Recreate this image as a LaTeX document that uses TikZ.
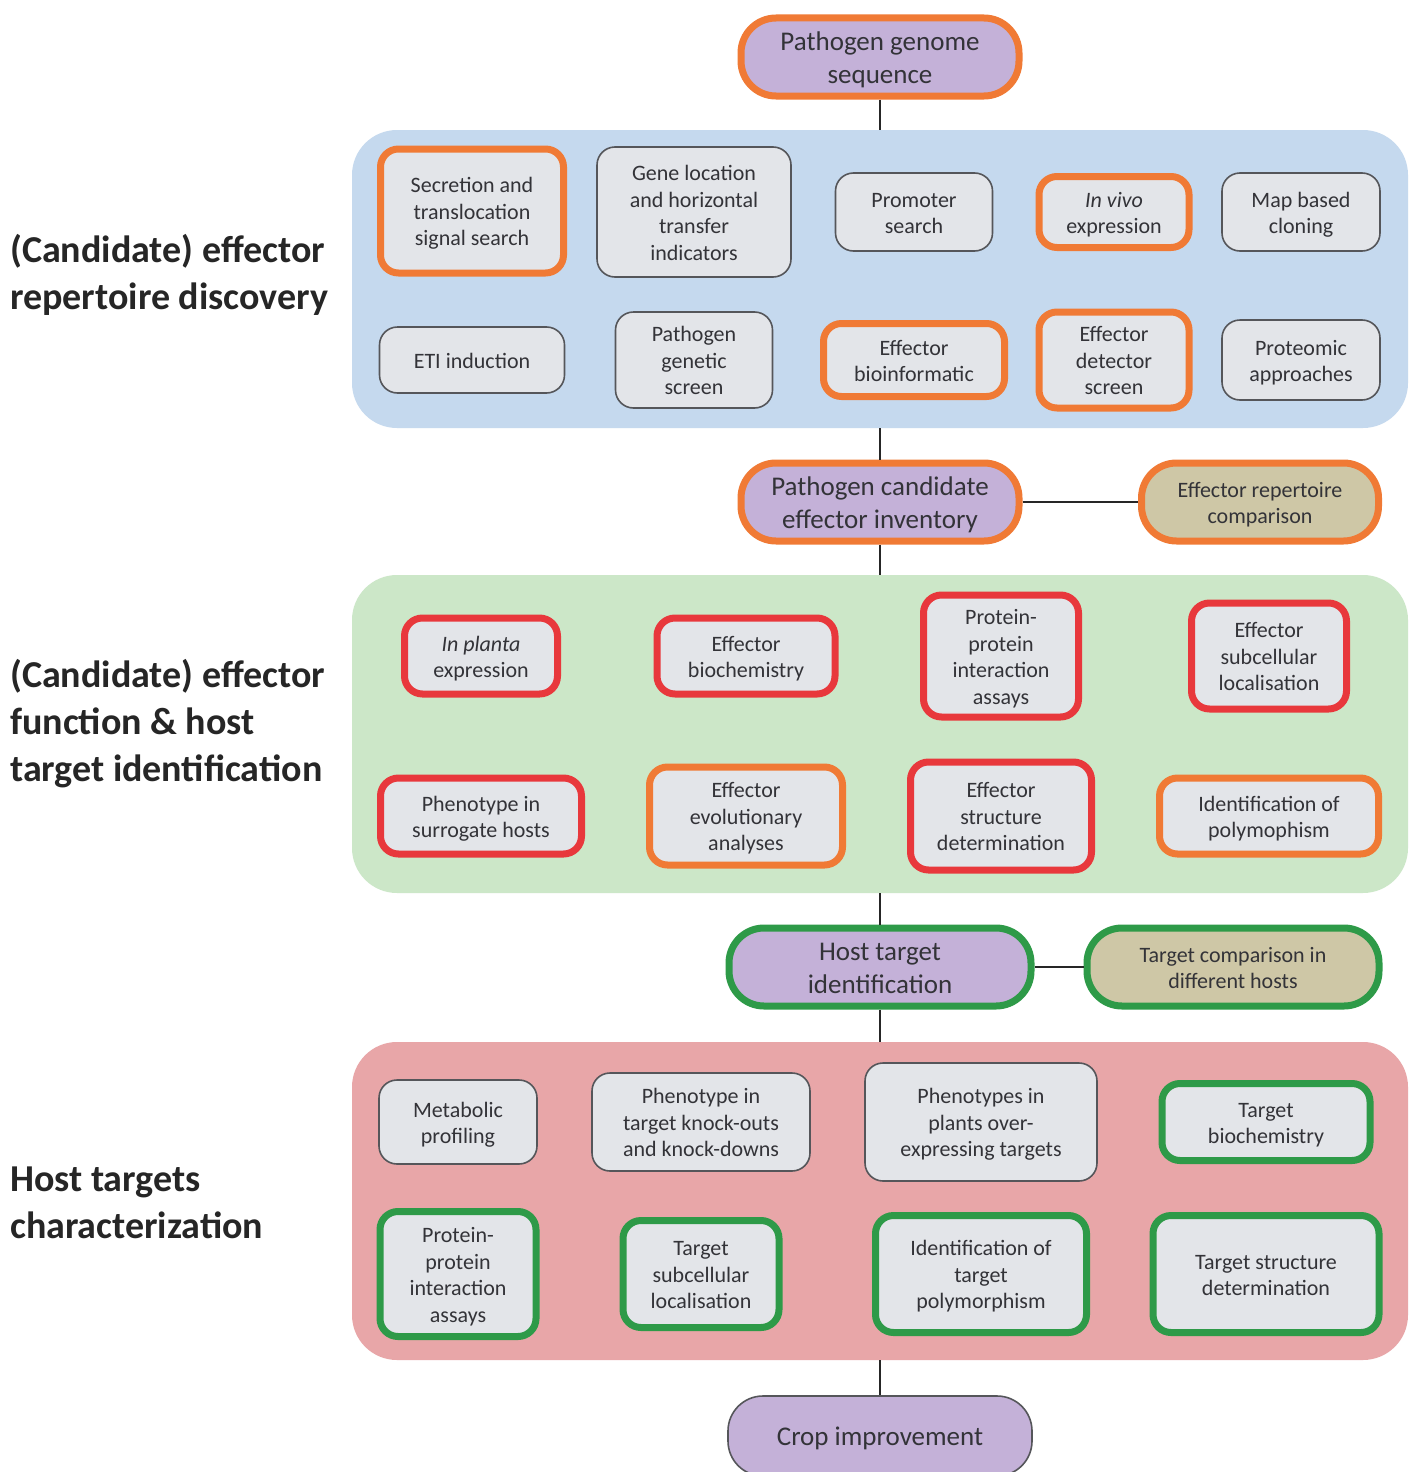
\documentclass[tikz,border=0pt]{standalone}
\usepackage{fontspec}
\setmainfont{Carlito}
\definecolor{orng}{HTML}{F07A35}
\definecolor{rd}{HTML}{E8383C}
\definecolor{grn}{HTML}{2E9A48}
\definecolor{lav}{HTML}{C4B1D8}
\definecolor{tan}{HTML}{CEC7A6}
\definecolor{boxfill}{HTML}{E3E5E9}
\definecolor{bluep}{HTML}{C5D9EE}
\definecolor{greenp}{HTML}{CCE7C8}
\definecolor{redp}{HTML}{E8A6A8}
\definecolor{txt}{HTML}{333338}
\definecolor{gline}{HTML}{55565A}
\newcommand\mlines[1]{\raisebox{-3pt}[\height][\depth]{\begin{tabular}{@{}c@{}}#1\end{tabular}}}
\begin{document}
\begin{tikzpicture}[x=1pt,y=-1pt,
  panel/.style={draw=none, rounded corners=45pt, inner sep=0pt},
  box/.style={draw=gline, line width=1.6pt, fill=boxfill, rounded corners=18pt,
    font=\fontsize{22}{26.5}\selectfont, text=txt, inner sep=0pt},
  ob/.style={box, draw=orng, line width=7pt},
  rb/.style={box, draw=rd, line width=7pt},
  gb/.style={box, draw=grn, line width=7pt},
  bigbox/.style={box, fill=lav, rounded corners=35pt, font=\fontsize{27}{33}\selectfont},
  cmpbox/.style={box, fill=tan, rounded corners=35pt, line width=7pt},
  lbl/.style={anchor=west, align=left, font=\fontsize{38}{47}\selectfont\bfseries, text=black!85, inner sep=0pt},
  conn/.style={line width=2pt, black!85}]
\useasboundingbox (0,0) rectangle (1415,1472);
\fill[white] (0,0) rectangle (1415,1472);

% panels
\node[panel, fill=bluep, minimum width=1056pt, minimum height=298pt] (p1) at (880,279) {};
\node[panel, fill=greenp, minimum width=1056pt, minimum height=318pt] (p2) at (880,734) {};
\node[panel, fill=redp, minimum width=1056pt, minimum height=318pt] (p3) at (880,1201) {};

% left labels
\node[lbl] (l1) at (10,275) {(Candidate) effector\\repertoire discovery};
\node[lbl] (l2) at (10,724) {(Candidate) effector\\function \& host\\target identification};
\node[lbl] (l3) at (10,1203) {Host targets\\characterization};

% main column
\node[bigbox, draw=orng, line width=7pt, minimum width=278pt, minimum height=78pt] (gen) at (880,57) {\mlines{Pathogen genome\\sequence}};
\node[bigbox, draw=orng, line width=7pt, minimum width=278pt, minimum height=78pt] (inv) at (880,502) {\mlines{Pathogen candidate\\effector inventory}};
\node[cmpbox, draw=orng, minimum width=237pt, minimum height=78pt] (rep) at (1260,502) {\mlines{Effector repertoire\\comparison}};
\node[bigbox, draw=grn, line width=7pt, minimum width=302pt, minimum height=78pt] (host) at (880,967) {\mlines{Host target\\identification}};
\node[cmpbox, draw=grn, minimum width=292pt, minimum height=78pt] (tcmp) at (1233,967) {\mlines{Target comparison in\\different hosts}};
\node[bigbox, minimum width=304pt, minimum height=80pt] (crop) at (880,1436) {\mlines{Crop improvement}};

% blue panel nodes
\node[ob, minimum width=183pt, minimum height=124pt] (sec) at (472,211) {\mlines{Secretion and\\translocation\\signal search}};
\node[box, minimum width=194pt, minimum height=130pt] (gene) at (694,212) {\mlines{Gene location\\and horizontal\\transfer\\indicators}};
\node[box, minimum width=157pt, minimum height=78pt] (prom) at (914,212) {\mlines{Promoter\\search}};
\node[ob, minimum width=150pt, minimum height=71pt] (vivo) at (1114,212) {\mlines{\textit{In vivo}\\expression}};
\node[box, minimum width=158pt, minimum height=78pt] (map) at (1301,212) {\mlines{Map based\\cloning}};
\node[box, minimum width=185pt, minimum height=66pt] (eti) at (472,360) {\mlines{ETI induction}};
\node[box, minimum width=157pt, minimum height=96pt] (pgs) at (694,360) {\mlines{Pathogen\\genetic\\screen}};
\node[ob, minimum width=181pt, minimum height=73pt] (bio) at (914,360) {\mlines{Effector\\bioinformatic}};
\node[ob, minimum width=150pt, minimum height=96pt] (det) at (1114,360) {\mlines{Effector\\detector\\screen}};
\node[box, minimum width=158pt, minimum height=80pt] (prot) at (1301,360) {\mlines{Proteomic\\approaches}};

% green panel nodes
\node[rb, minimum width=153pt, minimum height=76pt] (planta) at (481,656) {\mlines{\textit{In planta}\\expression}};
\node[rb, minimum width=178pt, minimum height=76pt] (ebio) at (746,656) {\mlines{Effector\\biochemistry}};
\node[rb, minimum width=155pt, minimum height=122pt] (ppi) at (1001,656) {\mlines{Protein-\\protein\\interaction\\assays}};
\node[rb, minimum width=155pt, minimum height=106pt] (esub) at (1269,656) {\mlines{Effector\\subcellular\\localisation}};
\node[rb, minimum width=201pt, minimum height=76pt] (surr) at (481,816) {\mlines{Phenotype in\\surrogate hosts}};
\node[ob, minimum width=193pt, minimum height=98pt] (evo) at (746,816) {\mlines{Effector\\evolutionary\\analyses}};
\node[rb, minimum width=181pt, minimum height=108pt] (estr) at (1001,816) {\mlines{Effector\\structure\\determination}};
\node[ob, minimum width=219pt, minimum height=76pt] (poly) at (1269,816) {\mlines{Identification of\\polymophism}};

% red panel nodes
\node[box, minimum width=158pt, minimum height=84pt] (meta) at (458,1122) {\mlines{Metabolic\\profiling}};
\node[box, minimum width=218pt, minimum height=98pt] (ko) at (701,1122) {\mlines{Phenotype in\\target knock-outs\\and knock-downs}};
\node[box, minimum width=232pt, minimum height=118pt] (oe) at (981,1122) {\mlines{Phenotypes in\\plants over-\\expressing targets}};
\node[gb, minimum width=208pt, minimum height=77pt] (tbio) at (1266,1122) {\mlines{Target\\biochemistry}};
\node[gb, minimum width=156pt, minimum height=125pt] (tppi) at (458,1274) {\mlines{Protein-\\protein\\interaction\\assays}};
\node[gb, minimum width=156pt, minimum height=107pt] (tsub) at (701,1274) {\mlines{Target\\subcellular\\localisation}};
\node[gb, minimum width=211pt, minimum height=117pt] (tpoly) at (981,1274) {\mlines{Identification of\\target\\polymorphism}};
\node[gb, minimum width=226pt, minimum height=117pt] (tstr) at (1266,1274) {\mlines{Target structure\\determination}};

% connectors
\draw[conn] (gen.south) -- (p1.north);
\draw[conn] (p1.south) -- (inv.north);
\draw[conn] (inv.east) -- (rep.west);
\draw[conn] (inv.south) -- (p2.north);
\draw[conn] (p2.south) -- (host.north);
\draw[conn] (host.east) -- (tcmp.west);
\draw[conn] (host.south) -- (p3.north);
\draw[conn] (p3.south) -- (crop.north);
\end{tikzpicture}
\end{document}
